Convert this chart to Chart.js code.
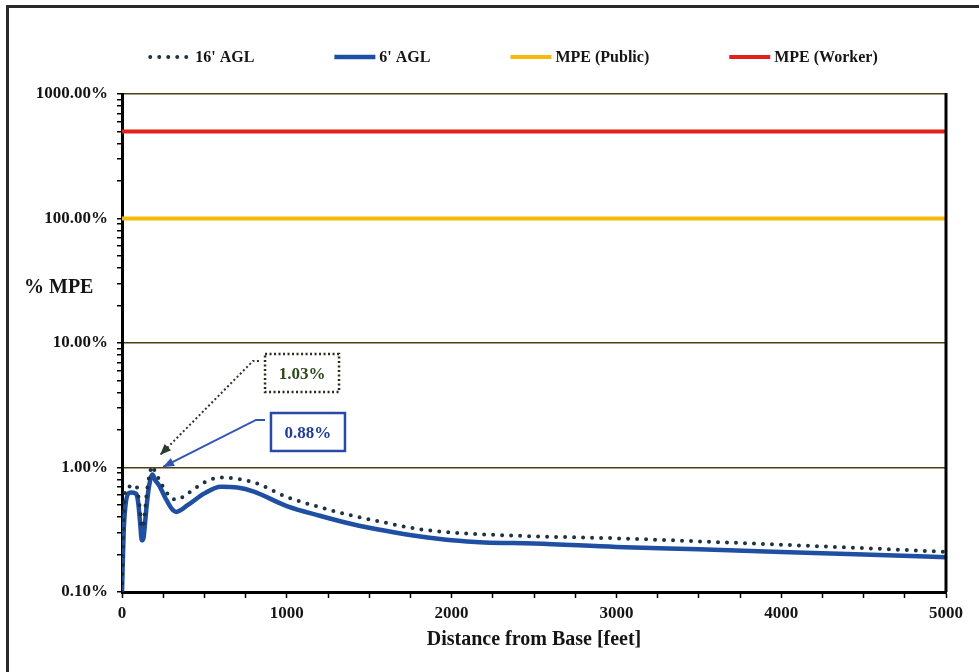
<!DOCTYPE html>
<html>
<head>
<meta charset="utf-8">
<title>% MPE vs distance</title>
<script src="https://cdn.jsdelivr.net/npm/chart.js@4.4.1/dist/chart.umd.min.js"></script>
<style>
  html, body { margin: 0; padding: 0; background: #fff; }
  #frame {
    position: absolute; left: 6px; top: 5px;
    width: 973px; height: 667px;
    border-left: 3px solid #2a2a2a; border-top: 3px solid #2a2a2a;
  }
  #chart { display: block; }
</style>
</head>
<body>
<div id="frame"><canvas id="chart" width="970" height="664"></canvas></div>
<script>
// distance from base, feet
const distance = [0, 10, 20, 40, 60, 80, 90, 100, 110, 120, 130, 140, 150, 165, 185, 200, 230, 260, 300, 330,
  400, 500, 600, 700, 800, 1000, 1200, 1400, 1600, 1800, 2000, 2200, 2500, 3000, 3500, 4000, 4500, 5000];

// % of MPE
const agl16 = [0.10, 0.35, 0.66, 0.70, 0.71, 0.72, 0.70, 0.58, 0.44, 0.33, 0.34, 0.45, 0.62, 0.85, 1.03, 0.93, 0.78, 0.66, 0.57, 0.55,
  0.62, 0.76, 0.83, 0.81, 0.76, 0.58, 0.48, 0.41, 0.36, 0.32, 0.30, 0.29, 0.28, 0.27, 0.255, 0.24, 0.225, 0.21];
const agl6 = [0.10, 0.30, 0.48, 0.62, 0.63, 0.62, 0.60, 0.50, 0.36, 0.26, 0.27, 0.36, 0.50, 0.72, 0.88, 0.80, 0.70, 0.58, 0.47, 0.44,
  0.50, 0.62, 0.70, 0.69, 0.64, 0.49, 0.41, 0.35, 0.31, 0.28, 0.26, 0.25, 0.245, 0.23, 0.22, 0.21, 0.20, 0.19];

const mpePublic = 100;
const mpeWorker = 500;

const yDecades = [0.1, 1, 10, 100, 1000];
const xMajor = [0, 1000, 2000, 3000, 4000, 5000];

const SERIF = '"Liberation Serif", "DejaVu Serif", serif';
const INK = "#151515";

function pts(ys) {
  return distance.map((d, i) => ({ x: d, y: ys[i] }));
}
function flat(v) {
  return [{ x: distance[0], y: v }, { x: distance[distance.length - 1], y: v }];
}
function isDecade(v) {
  const l = Math.log10(v);
  return Math.abs(l - Math.round(l)) < 1e-9;
}

const pct = (v) => v.toFixed(2) + "%";

// callouts next to the first peak (box + arrow placed in data space)
const callouts = [
  {
    text: pct(Math.max(...agl16)),
    box: [868, 1317, 8.16, 4.04],
    from: [831, 7.17], knee: [795, 7.17], tip: [231, 1.26],
    line: "#2b3a2a", dash: [2, 2.5], textColor: "#2f4a1c", boxColor: "#2a2a1a",
  },
  {
    text: pct(Math.max(...agl6)),
    box: [904, 1353, 2.74, 1.357],
    from: [868, 2.41], knee: [813, 2.41], tip: [249, 1.01],
    line: "#3452b4", dash: [], textColor: "#1f3c96", boxColor: "#2a48a6",
  },
];

const frameAndNotes = {
  id: "frameAndNotes",
  afterDraw(chart) {
    const { ctx, chartArea: a, scales } = chart;
    const X = (v) => scales.x.getPixelForValue(v);
    const Y = (v) => scales.y.getPixelForValue(v);
    ctx.save();

    // right edge of plot box
    ctx.strokeStyle = "#000";
    ctx.lineWidth = 3;
    ctx.beginPath();
    ctx.moveTo(a.right, a.top - 1);
    ctx.lineTo(a.right, a.bottom);
    ctx.stroke();

    // legend row
    ctx.font = "bold 16px " + SERIF;
    ctx.textBaseline = "middle";
    const ds = chart.data.datasets;
    const lineLen = 41, gap = 4, itemGap = 80;
    const widths = ds.map((d) => lineLen + gap + ctx.measureText(d.label).width);
    const total = widths.reduce((s, w) => s + w, 0) + itemGap * (ds.length - 1);
    let lx = 505 - total / 2;
    const ly = 49;
    ds.forEach((d, i) => {
      ctx.beginPath();
      ctx.lineWidth = d.borderWidth;
      ctx.strokeStyle = d.borderColor;
      ctx.setLineDash(d.borderDash || []);
      ctx.lineCap = d.borderCapStyle || "butt";
      ctx.moveTo(lx, ly);
      ctx.lineTo(lx + lineLen, ly);
      ctx.stroke();
      ctx.setLineDash([]);
      ctx.fillStyle = INK;
      ctx.textAlign = "left";
      ctx.fillText(d.label, lx + lineLen + gap, ly + 1);
      lx += widths[i] + itemGap;
    });

    // y title, horizontal
    ctx.font = "bold 20px " + SERIF;
    ctx.fillStyle = INK;
    ctx.textAlign = "left";
    ctx.fillText("% MPE", 15, 280);

    // callouts
    for (const c of callouts) {
      const bx0 = X(c.box[0]), bx1 = X(c.box[1]);
      const by0 = Y(c.box[2]), by1 = Y(c.box[3]);
      ctx.lineCap = "butt";
      ctx.setLineDash(c.dash);
      ctx.lineWidth = 2.5;
      ctx.strokeStyle = c.boxColor;
      ctx.strokeRect(bx0, by0, bx1 - bx0, by1 - by0);

      const fx = X(c.from[0]), fy = Y(c.from[1]);
      const kx = X(c.knee[0]), ky = Y(c.knee[1]);
      const tx = X(c.tip[0]), ty = Y(c.tip[1]);
      ctx.lineWidth = 2;
      ctx.strokeStyle = c.line;
      ctx.beginPath();
      ctx.moveTo(fx, fy);
      ctx.lineTo(kx, ky);
      ctx.lineTo(tx, ty);
      ctx.stroke();
      ctx.setLineDash([]);
      const ang = Math.atan2(ty - ky, tx - kx);
      ctx.fillStyle = c.line;
      ctx.beginPath();
      ctx.moveTo(tx, ty);
      ctx.lineTo(tx - 11 * Math.cos(ang) + 4.5 * Math.sin(ang), ty - 11 * Math.sin(ang) - 4.5 * Math.cos(ang));
      ctx.lineTo(tx - 11 * Math.cos(ang) - 4.5 * Math.sin(ang), ty - 11 * Math.sin(ang) + 4.5 * Math.cos(ang));
      ctx.closePath();
      ctx.fill();

      ctx.font = "bold 17px " + SERIF;
      ctx.fillStyle = c.textColor;
      ctx.textAlign = "center";
      ctx.fillText(c.text, (bx0 + bx1) / 2, (by0 + by1) / 2 + 2);
    }
    ctx.restore();
  },
};

new Chart(document.getElementById("chart"), {
  type: "line",
  data: {
    datasets: [
      {
        label: "16' AGL",
        data: pts(agl16),
        borderColor: "#1d3340",
        borderWidth: 4,
        borderDash: [0, 9],
        borderCapStyle: "round",
        cubicInterpolationMode: "monotone",
        pointRadius: 0,
      },
      {
        label: "6' AGL",
        data: pts(agl6),
        borderColor: "#1f4fa3",
        borderWidth: 4.5,
        cubicInterpolationMode: "monotone",
        pointRadius: 0,
      },
      {
        label: "MPE (Public)",
        data: flat(mpePublic),
        borderColor: "#f6b90c",
        borderWidth: 4,
        pointRadius: 0,
      },
      {
        label: "MPE (Worker)",
        data: flat(mpeWorker),
        borderColor: "#e3201c",
        borderWidth: 4,
        pointRadius: 0,
      },
    ],
  },
  options: {
    responsive: false,
    animation: false,
    layout: { padding: { top: 86, right: 33, left: 0, bottom: 0 } },
    plugins: {
      legend: { display: false },
      tooltip: { enabled: false },
    },
    scales: {
      x: {
        type: "linear",
        min: 0,
        max: 5000,
        afterFit: (s) => { s.height = 80; },
        ticks: {
          stepSize: 250,
          autoSkip: false,
          maxRotation: 0,
          padding: 5,
          color: INK,
          font: { family: SERIF, size: 17, weight: "bold" },
          callback: (v) => (xMajor.includes(v) ? String(v) : ""),
        },
        grid: {
          drawOnChartArea: false,
          tickLength: 6,
          tickWidth: 1.5,
          tickColor: "#000",
        },
        border: { color: "#000", width: 3 },
        title: {
          display: true,
          text: "Distance from Base [feet]",
          color: INK,
          font: { family: SERIF, size: 20, weight: "bold" },
          padding: { top: 0, bottom: 20 },
        },
      },
      y: {
        type: "logarithmic",
        min: yDecades[0],
        max: yDecades[yDecades.length - 1],
        afterFit: (s) => { s.width = 113; },
        afterBuildTicks: (s) => {
          const t = [];
          for (let e = -1; e < 3; e++) {
            for (let k = 1; k < 10; k++) t.push({ value: Number((k * Math.pow(10, e)).toPrecision(6)) });
          }
          t.push({ value: yDecades[yDecades.length - 1] });
          s.ticks = t;
        },
        ticks: {
          autoSkip: false,
          padding: 9,
          color: INK,
          font: { family: SERIF, size: 17, weight: "bold" },
          callback: (v) => (isDecade(v) ? pct(v) : ""),
        },
        grid: {
          color: (c) => (c.tick && isDecade(c.tick.value) ? "#4d3f14" : "rgba(0,0,0,0)"),
          lineWidth: 1.5,
          tickLength: 5,
          tickWidth: 1.5,
          tickColor: "#000",
        },
        border: { color: "#000", width: 3 },
      },
    },
  },
  plugins: [frameAndNotes],
});
</script>
</body>
</html>
